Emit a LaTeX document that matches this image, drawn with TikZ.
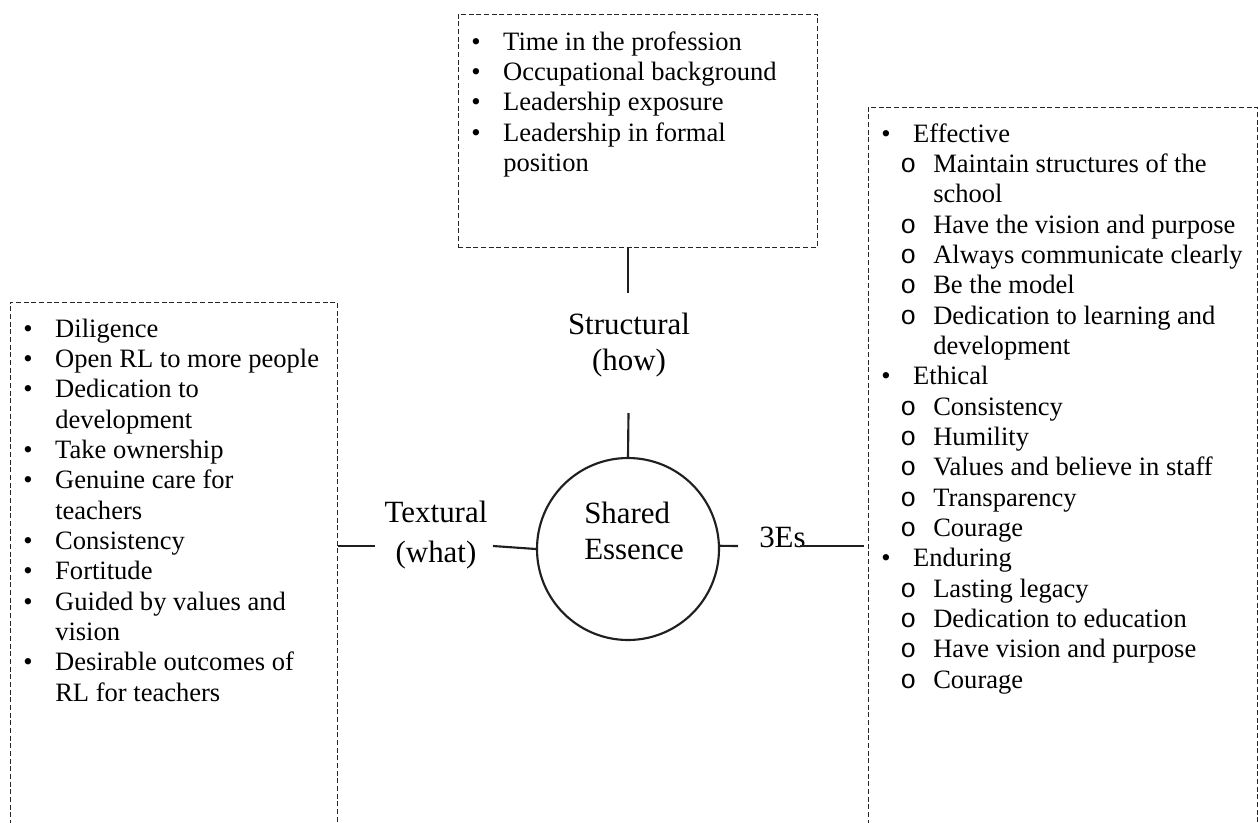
\documentclass[tikz,border=0pt]{standalone}
\usepackage{fontspec}
\setmainfont{Liberation Serif}
\newfontfamily\monofont{Liberation Mono}
\newcommand\bulit{\makebox[24pt][l]{\textbullet}}
\newcommand\bucont{\hspace*{24pt}}
\newcommand\subit{\hspace*{14.25pt}\makebox[24.75pt][l]{{\monofont o}}}
\newcommand\subcont{\hspace*{39pt}}
\begin{document}
\begin{tikzpicture}[x=0.75pt,y=-0.75pt,
  dashbox/.style={draw=black!85, line width=0.75pt, dash pattern=on 3.75pt off 2pt, inner sep=0},
  conn/.style={draw=black!88, line width=1.6pt},
  lst/.style={anchor=base west, inner sep=0, font=\fontsize{19.9}{22.75}\selectfont},
  lbl/.style={inner sep=0, font=\fontsize{23.2}{27}\selectfont}]
\useasboundingbox (0,0) rectangle (1258,822);

% boxes
\node[dashbox, minimum width=269.25pt, minimum height=174.75pt] (topbox) at (637.5,130.5) {};
\node[dashbox, minimum width=245.25pt, minimum height=397.5pt] (leftbox) at (173.5,567) {};
\node[dashbox, minimum width=291.75pt, minimum height=543.75pt] (rightbox) at (1062.5,469.5) {};

% lists
\node[lst] (toplist) at (471,50) {\begin{tabular}[t]{@{}l@{}}
\bulit Time in the profession\\
\bulit Occupational background\\
\bulit Leadership exposure\\
\bulit Leadership in formal\\
\bucont position
\end{tabular}};

\node[lst] (leftlist) at (23,337) {\begin{tabular}[t]{@{}l@{}}
\bulit Diligence\\
\bulit Open RL to more people\\
\bulit Dedication to\\
\bucont development\\
\bulit Take ownership\\
\bulit Genuine care for\\
\bucont teachers\\
\bulit Consistency\\
\bulit Fortitude\\
\bulit Guided by values and\\
\bucont vision\\
\bulit Desirable outcomes of\\
\bucont RL for teachers
\end{tabular}};

\node[lst] (rightlist) at (881,142) {\begin{tabular}[t]{@{}l@{}}
\bulit Effective\\
\subit Maintain structures of the\\
\subcont school\\
\subit Have the vision and purpose\\
\subit Always communicate clearly\\
\subit Be the model\\
\subit Dedication to learning and\\
\subcont development\\
\bulit Ethical\\
\subit Consistency\\
\subit Humility\\
\subit Values and believe in staff\\
\subit Transparency\\
\subit Courage\\
\bulit Enduring\\
\subit Lasting legacy\\
\subit Dedication to education\\
\subit Have vision and purpose\\
\subit Courage
\end{tabular}};

% centre
\node[draw=black!88, line width=1.6pt, circle, minimum size=136.5pt, inner sep=0] (ess) at (628,549) {};
\node[lbl, anchor=base west] (esstext) at (584,523) {\begin{tabular}[t]{@{}l@{}}Shared\\Essence\end{tabular}};
\node[lbl, anchor=base] (struct) at (629,334) {\begin{tabular}[t]{@{}c@{}}Structural\\(how)\end{tabular}};
\node[lbl, anchor=base] (textural) at (436,522) {\begin{tabular}[t]{@{}c@{}}Textural\\[3pt](what)\end{tabular}};
\node[lbl, anchor=base west] (three) at (759,547) {3Es};

% connectors
\coordinate (s1) at (628,293);
\draw[conn] (topbox.south -| s1) -- (s1);
\coordinate (s2) at (628.5,413);
\draw[conn] (s2) -- (ess.north);
\coordinate (t1) at (375,546);
\draw[conn] (leftbox.east |- t1) -- (t1);
\coordinate (t2) at (493,546);
\draw[conn] (t2) -- (ess.west);
\coordinate (e1) at (738,546);
\draw[conn] (ess.2) -- (e1);
\coordinate (e2) at (800,546);
\draw[conn] (e2) -- ([xshift=-3pt]rightbox.west |- e2);
\end{tikzpicture}
\end{document}
